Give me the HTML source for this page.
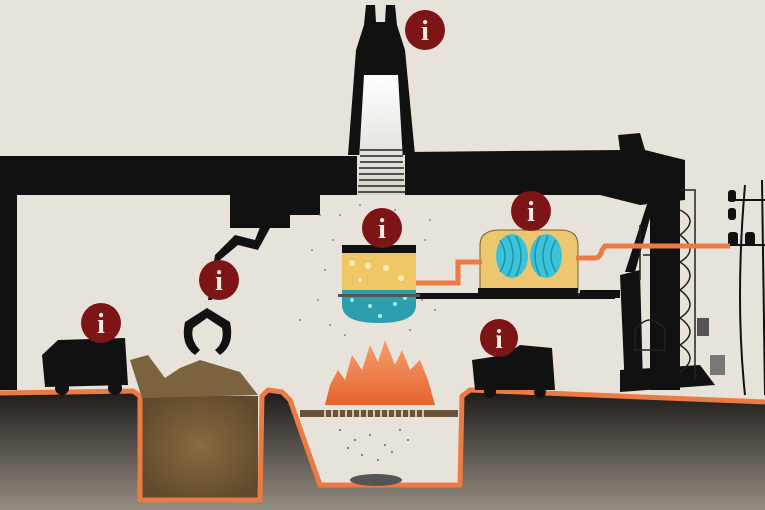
<!DOCTYPE html>
<html><head><meta charset="utf-8"><style>
html,body{margin:0;padding:0;background:#e8e3da;}
svg{display:block}
text{font-family:"Liberation Serif",serif;font-weight:bold;}
</style></head><body>
<svg width="765" height="510" viewBox="0 0 765 510" xmlns="http://www.w3.org/2000/svg">
<defs>
<linearGradient id="gr" x1="0" y1="0" x2="0" y2="1">
<stop offset="0" stop-color="#1c1a18"/><stop offset="1" stop-color="#948d82"/></linearGradient>
<linearGradient id="ch" x1="0" y1="0" x2="0" y2="1">
<stop offset="0" stop-color="#fff"/><stop offset="1" stop-color="#d8d4cc"/></linearGradient>
<linearGradient id="fl" x1="0" y1="0" x2="0" y2="1">
<stop offset="0" stop-color="#f4a070"/><stop offset="1" stop-color="#e8632e"/></linearGradient>
<radialGradient id="br" cx="0.5" cy="0.5" r="0.6">
<stop offset="0" stop-color="#8a6a40"/><stop offset="1" stop-color="#5e4a2e"/></radialGradient>
</defs>
<rect width="765" height="510" fill="#e8e3da"/>

<!-- chimney -->
<path d="M348 155 L356 50 L364 25 L366 5 L375 5 L376 22 L385 22 L386 5 L395 5 L397 25 L405 50 L415 155Z" fill="#111"/>
<path d="M364 75 L398 75 L405 195 L357 195Z" fill="url(#ch)"/>
<g stroke="#222" stroke-width="1.5">
<line x1="360" y1="150" x2="403" y2="150"/><line x1="360" y1="156" x2="403" y2="156"/><line x1="360" y1="162" x2="403" y2="162"/><line x1="359" y1="168" x2="404" y2="168"/><line x1="359" y1="174" x2="404" y2="174"/><line x1="359" y1="180" x2="404" y2="180"/><line x1="358" y1="186" x2="405" y2="186"/><line x1="358" y1="192" x2="405" y2="192"/></g>

<!-- beam -->
<path d="M0 156 L357 156 L357 195 L0 195Z" fill="#111"/>
<path d="M405 152 L620 150 L620 195 L405 195Z" fill="#111"/>
<path d="M230 190 L320 190 L320 215 L290 215 L290 228 L230 228Z" fill="#111"/>
<rect x="0" y="190" width="17" height="200" fill="#111"/>
<!-- arm -->
<path d="M262 222 L255 240 L235 235 L215 255 L208 300 L212 300 L220 260 L238 245 L258 250 L270 228Z" fill="#111"/>
<path d="M185 322 Q180 345 195 355 L200 350 Q190 340 193 328 L207 318 L222 328 Q225 342 215 350 L220 355 Q235 345 230 322 L207 308Z" fill="#111"/>

<!-- right crane tower -->
<path d="M600 158 L620 150 L618 135 L640 133 L645 150 L685 160 L685 200 L640 205 L600 195Z" fill="#111"/>
<rect x="650" y="160" width="30" height="230" fill="#111"/>
<path d="M620 275 L640 270 L643 385 L625 390Z" fill="#111"/>
<path d="M625 272 L650 195 L655 200 L635 272Z" fill="#111"/>
<path d="M620 370 L700 365 L715 385 L620 392Z" fill="#111"/>
<rect x="580" y="290" width="40" height="8" fill="#111"/>
<g fill="none" stroke="#222" stroke-width="1.5">
<path d="M680 190 L695 190 L695 380"/>
<path d="M680 210 Q700 220 680 235 Q700 250 680 262 Q700 275 680 290 Q700 305 680 318 Q700 332 680 345 Q700 358 680 372"/>
<path d="M635 330 Q650 310 665 330 L665 350 L635 350Z"/>
<path d="M640 225 L640 280 M643 255 L650 255"/></g>
<rect x="697" y="318" width="12" height="18" fill="#555"/>
<rect x="710" y="355" width="15" height="20" fill="#777"/>
<!-- pylon right -->
<g stroke="#111" stroke-width="2" fill="none">
<path d="M745 185 Q735 300 745 395 M762 180 L765 395"/>
<path d="M728 200 L765 200 M728 245 L765 245"/></g>
<g fill="#111"><rect x="728" y="190" width="8" height="12" rx="3"/><rect x="728" y="208" width="8" height="12" rx="3"/><rect x="728" y="232" width="10" height="14" rx="3"/><rect x="745" y="232" width="10" height="14" rx="3"/></g>

<!-- platform -->
<rect x="342" y="293" width="273" height="6" fill="#111"/>

<!-- boiler -->
<rect x="342" y="245" width="74" height="8" fill="#111"/>
<rect x="342" y="253" width="74" height="40" fill="#efc865"/>
<path d="M342 290 L416 290 L416 305 Q416 323 379 323 Q342 323 342 305Z" fill="#2b9fae"/>
<g fill="#fff8cc" opacity=".8"><circle cx="352" cy="263" r="3"/><circle cx="368" cy="266" r="3"/><circle cx="386" cy="268" r="3"/><circle cx="401" cy="278" r="3"/><circle cx="360" cy="280" r="2"/></g>
<g fill="#cff" opacity=".8"><circle cx="352" cy="300" r="2"/><circle cx="370" cy="306" r="2"/><circle cx="395" cy="304" r="2"/><circle cx="380" cy="316" r="2"/><circle cx="405" cy="298" r="2"/></g>
<rect x="338" y="294" width="82" height="3" fill="#555"/>

<!-- turbine -->
<path d="M480 295 L480 245 Q480 230 500 230 L560 230 Q578 230 578 245 L578 295Z" fill="#edc770" stroke="#7a5d30" stroke-width="1"/>
<rect x="478" y="288" width="100" height="8" fill="#111"/>
<g fill="#3cc3d8"><ellipse cx="512" cy="256" rx="16" ry="22"/><ellipse cx="546" cy="256" rx="16" ry="22"/></g>
<g stroke="#1a93b0" stroke-width="1.5" fill="none"><path d="M500 240 Q510 256 500 272 M508 236 Q518 256 508 276 M516 236 Q526 256 516 276 M540 236 Q530 256 540 276 M548 236 Q538 256 548 276 M556 240 Q546 256 556 272"/></g>

<!-- pipes -->
<path d="M416 283 L458 283 L458 262 L482 262" fill="none" stroke="#ec7a43" stroke-width="5"/>
<path d="M576 258 L595 258 Q600 258 602 250 L605 246 L730 246" fill="none" stroke="#ec7a43" stroke-width="5"/>

<!-- dust -->
<g fill="#888">
<circle cx="320" cy="215" r="1"/><circle cx="333" cy="240" r="1"/><circle cx="325" cy="270" r="1"/><circle cx="318" cy="300" r="1"/><circle cx="340" cy="215" r="1"/><circle cx="425" cy="240" r="1"/><circle cx="430" cy="220" r="1"/><circle cx="422" cy="300" r="1"/><circle cx="330" cy="325" r="1"/><circle cx="345" cy="335" r="1"/><circle cx="410" cy="330" r="1"/><circle cx="300" cy="320" r="1"/><circle cx="435" cy="310" r="1"/><circle cx="360" cy="205" r="1"/><circle cx="395" cy="210" r="1"/><circle cx="312" cy="250" r="1"/></g>

<!-- ground -->
<path d="M0 393 L133 391 L140 396 L140 500 L260 500 L262 396 L268 390 L282 392 L290 400 L320 485 L460 485 L462 396 L470 390 L765 402 L765 510 L0 510Z" fill="url(#gr)"/>
<path d="M142 396 L258 396 L258 498 L142 498Z" fill="url(#br)"/>
<path d="M290 400 L320 482 L458 482 L458 392 L290 392Z" fill="#e8e3da"/>
<path d="M0 393 L133 391 L140 396 L140 500 L260 500 L262 396 L268 390 L282 392 L290 400 L320 485 L460 485 L462 396 L470 390 L765 402" fill="none" stroke="#ec7a43" stroke-width="5" stroke-linejoin="round"/>

<!-- garbage pile -->
<path d="M130 360 L148 355 L165 378 L180 368 L200 360 L220 366 L240 372 L258 395 L142 398Z" fill="#7c6340"/>

<!-- fire -->
<path d="M325 405 L330 385 L338 370 L345 380 L352 355 L362 370 L370 345 L378 362 L385 340 L395 365 L402 350 L410 370 L420 360 L428 380 L435 405Z" fill="url(#fl)"/>
<rect x="300" y="410" width="158" height="7" fill="#6a5236"/>
<g stroke="#eee" stroke-width="1.5"><line x1="325" y1="410" x2="325" y2="417"/><line x1="332" y1="410" x2="332" y2="417"/><line x1="339" y1="410" x2="339" y2="417"/><line x1="346" y1="410" x2="346" y2="417"/><line x1="353" y1="410" x2="353" y2="417"/><line x1="360" y1="410" x2="360" y2="417"/><line x1="367" y1="410" x2="367" y2="417"/><line x1="374" y1="410" x2="374" y2="417"/><line x1="381" y1="410" x2="381" y2="417"/><line x1="388" y1="410" x2="388" y2="417"/><line x1="395" y1="410" x2="395" y2="417"/><line x1="402" y1="410" x2="402" y2="417"/><line x1="409" y1="410" x2="409" y2="417"/><line x1="416" y1="410" x2="416" y2="417"/><line x1="423" y1="410" x2="423" y2="417"/></g>
<ellipse cx="376" cy="480" rx="26" ry="6" fill="#555"/>
<g fill="#666"><circle cx="340" cy="430" r="1"/><circle cx="355" cy="440" r="1"/><circle cx="370" cy="435" r="1"/><circle cx="385" cy="445" r="1"/><circle cx="400" cy="430" r="1"/><circle cx="362" cy="455" r="1"/><circle cx="378" cy="460" r="1"/><circle cx="392" cy="452" r="1"/><circle cx="348" cy="448" r="1"/><circle cx="408" cy="440" r="1"/></g>

<!-- trucks -->
<path d="M42 355 L58 340 L125 338 L128 385 L45 387Z" fill="#111"/>
<circle cx="62" cy="388" r="7" fill="#111"/><circle cx="115" cy="388" r="7" fill="#111"/>
<path d="M472 360 L505 355 L520 345 L552 348 L555 390 L475 390Z" fill="#111"/>
<circle cx="490" cy="392" r="6" fill="#111"/><circle cx="540" cy="392" r="6" fill="#111"/>

<!-- info icons -->
<g>
<circle cx="425" cy="30" r="20" fill="#7d1416"/><text x="425" y="40" font-size="28" fill="#f4eee6" text-anchor="middle">i</text>
<circle cx="382" cy="228" r="20" fill="#7d1416"/><text x="382" y="238" font-size="28" fill="#f4eee6" text-anchor="middle">i</text>
<circle cx="531" cy="211" r="20" fill="#7d1416"/><text x="531" y="221" font-size="28" fill="#f4eee6" text-anchor="middle">i</text>
<circle cx="219" cy="280" r="20" fill="#7d1416"/><text x="219" y="290" font-size="28" fill="#f4eee6" text-anchor="middle">i</text>
<circle cx="101" cy="323" r="20" fill="#7d1416"/><text x="101" y="333" font-size="28" fill="#f4eee6" text-anchor="middle">i</text>
<circle cx="499" cy="338" r="19" fill="#7d1416"/><text x="499" y="348" font-size="27" fill="#f4eee6" text-anchor="middle">i</text>
</g>
</svg>
</body></html>
